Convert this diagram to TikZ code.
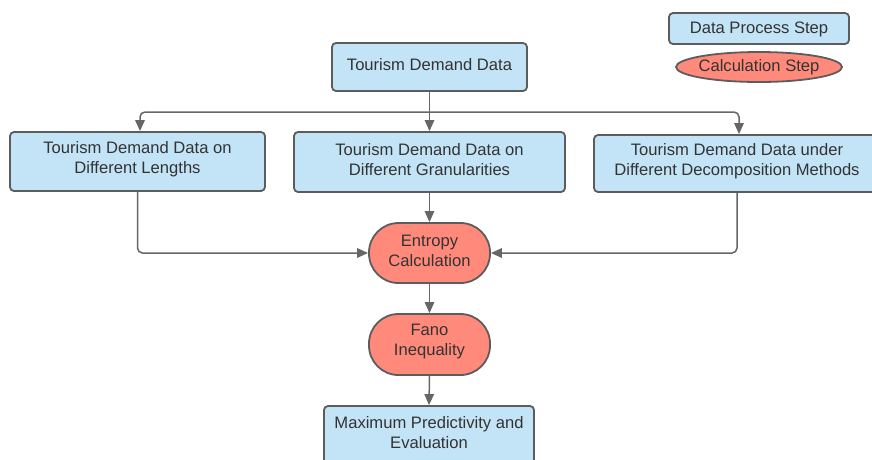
\documentclass[tikz,border=0pt]{standalone}
\usepackage{fontspec}
\setmainfont{Liberation Sans}
\usetikzlibrary{arrows.meta,shapes.geometric}
\definecolor{boxblue}{HTML}{C3E4F6}
\definecolor{calcred}{HTML}{FF8A7B}
\definecolor{edgegray}{HTML}{5C5C5C}
\definecolor{linegray}{HTML}{666666}
\definecolor{txtgray}{HTML}{333333}
\tikzset{
  x=1pt,y=-1pt,
  textstyle/.style={text=txtgray,align=center,inner sep=0pt,
    font=\fontsize{16.6}{20}\selectfont},
  base/.style={draw=edgegray,line width=1.8pt,inner sep=0pt},
  databox/.style={base,fill=boxblue,rounded corners=4pt},
  calcbox/.style={base,fill=calcred,rounded corners=29.5pt},
  txt/.style={label={[textstyle,yshift=2.5pt]center:#1}},
  legtxt/.style={label={[textstyle,yshift=-0.5pt]center:#1}},
  conn/.style={draw=linegray,line width=1.5pt,rounded corners=5pt,
    -{Triangle[length=11pt,width=9.5pt]}},
  plain/.style={draw=linegray,line width=1.5pt,rounded corners=5pt},
}
\begin{document}
\begin{tikzpicture}
\useasboundingbox (0,0) rectangle (872,459);
% legend
\node[databox,minimum width=180pt,minimum height=31pt,legtxt={Data Process Step}] (legdata) at (759,28.5) {};
\node[base,ellipse,fill=calcred,minimum width=166pt,minimum height=30pt,legtxt={Calculation Step}] (legcalc) at (759,67) {};
% main nodes
\node[databox,minimum width=195pt,minimum height=48pt,txt={Tourism Demand Data}] (top) at (429.5,67) {};
\node[databox,minimum width=255pt,minimum height=59pt,txt={Tourism Demand Data on\\Different Lengths}] (len) at (137.5,161.5) {};
\node[databox,minimum width=271pt,minimum height=60pt,txt={Tourism Demand Data on\\Different Granularities}] (gran) at (429.5,162) {};
\node[databox,minimum width=286pt,minimum height=57pt,txt={Tourism Demand Data under\\Different Decomposition Methods}] (dec) at (737,163.5) {};
\node[calcbox,minimum width=121pt,minimum height=60pt,txt={Entropy\\Calculation}] (ent) at (429.5,253) {};
\node[calcbox,minimum width=121pt,minimum height=61pt,txt={Fano\\Inequality}] (fano) at (429.5,344.5) {};
\node[databox,minimum width=210pt,minimum height=58pt,txt={Maximum Predictivity and\\Evaluation}] (maxp) at (429,435) {};
% connectors
\coordinate (br) at (429.5,112);
\draw[plain] (top.south) -- (br);
\draw[conn] (br) -| ([xshift=2.5pt]len.north);
\draw[conn] (br) -| ([xshift=2pt]dec.north);
\draw[conn] (br) -- (gran.north);
\draw[conn] (len.south) |- (ent.west);
\draw[conn] (dec.south) |- (ent.east);
\draw[conn] (gran.south) -- (ent.north);
\draw[conn] (ent.south) -- (fano.north);
\draw[conn] (fano.south) -- (maxp.north);
\end{tikzpicture}
\end{document}
